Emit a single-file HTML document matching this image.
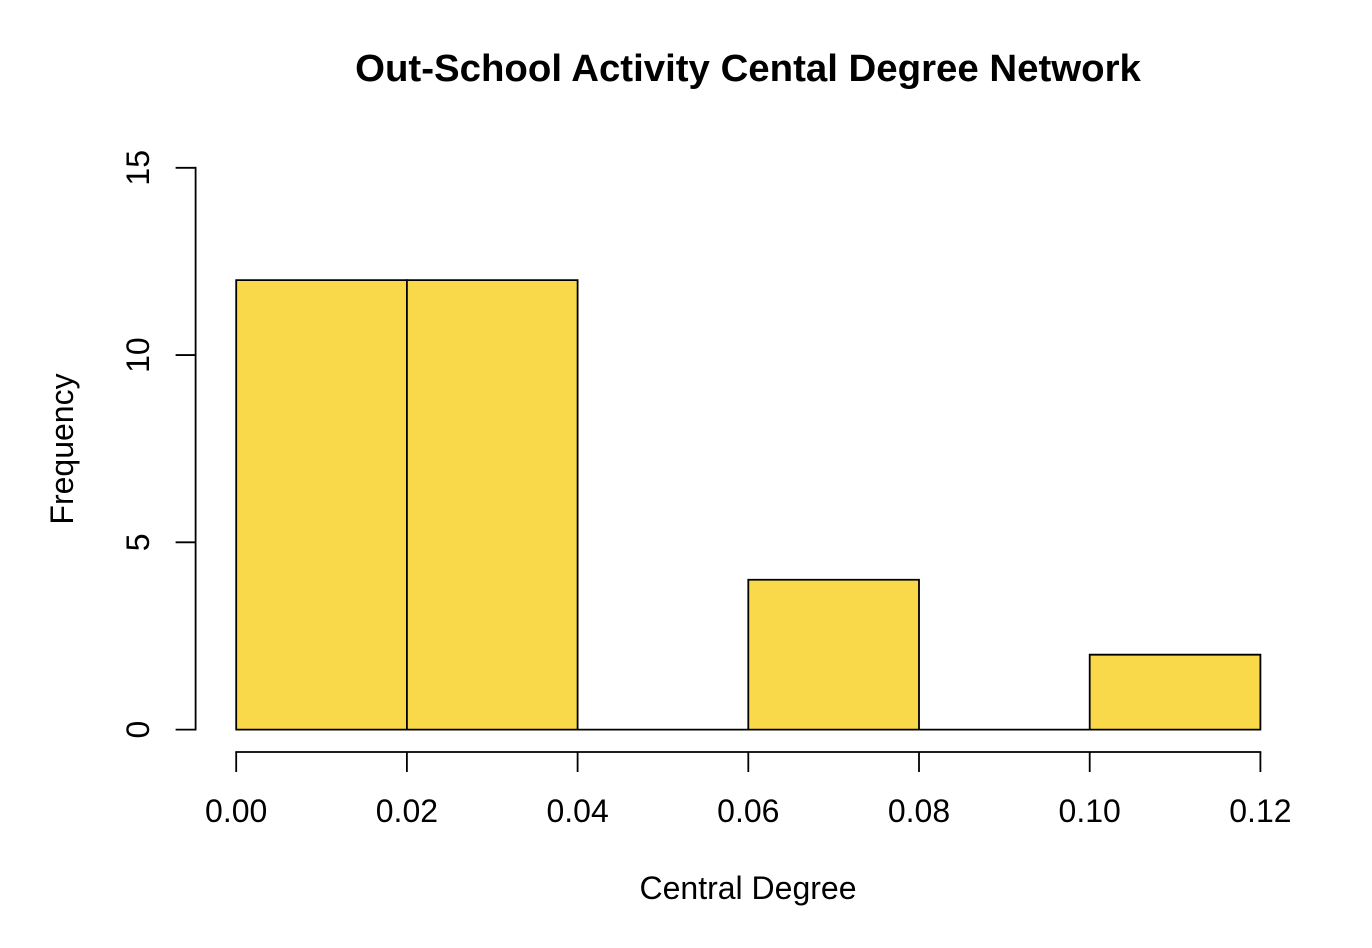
<!DOCTYPE html>
<html>
<head>
<meta charset="utf-8">
<style>
html,body{margin:0;padding:0;background:#fff;}
svg{display:block;}
text{font-family:"Liberation Sans",Arial,sans-serif;fill:#000;}
</style>
</head>
<body>
<svg id="chart" width="1372" height="948" viewBox="0 0 1372 948" xmlns="http://www.w3.org/2000/svg">
<text x="748" y="81" font-size="38.4" font-weight="bold" text-anchor="middle">Out-School Activity Cental Degree Network</text>
<text x="748" y="899" font-size="32" text-anchor="middle">Central Degree</text>
<text transform="translate(73,449) rotate(-90)" font-size="32" text-anchor="middle">Frequency</text>
<g id="bars"></g>
<g id="xaxis"></g>
<g id="yaxis"></g>
</svg>
<script>
const binEdges = [0, 0.02, 0.04, 0.06, 0.08, 0.10, 0.12];
const frequencies = [12, 12, 0, 4, 0, 2];
const xTickValues = [0, 0.02, 0.04, 0.06, 0.08, 0.10, 0.12];
const xTickLabels = ["0.00", "0.02", "0.04", "0.06", "0.08", "0.10", "0.12"];
const yTickValues = [0, 5, 10, 15];
const yTickLabels = ["0", "5", "10", "15"];

const NS = 'http://www.w3.org/2000/svg';
const STROKE = 1.8;
function xScale(v){ return 236.2 + (v / 0.12) * (1260.4 - 236.2); }
function yScale(v){ return 729.6 - (v / 15) * (729.6 - 167.8); }
function mk(tag, attrs, parent, text){
  const el = document.createElementNS(NS, tag);
  for (const k in attrs) el.setAttribute(k, attrs[k]);
  if (text !== undefined) el.textContent = text;
  parent.appendChild(el);
  return el;
}
const barsG = document.getElementById('bars');
frequencies.forEach(function(f, i){
  const x0 = xScale(binEdges[i]), x1 = xScale(binEdges[i + 1]);
  const y = yScale(f), b = yScale(0);
  const d = 'M' + x0 + ' ' + b + 'L' + x0 + ' ' + y + 'L' + x1 + ' ' + y + 'L' + x1 + ' ' + b + 'Z';
  const r = mk('path', {d: d, fill: '#f9d94a', stroke: '#000', 'stroke-width': STROKE, 'stroke-linejoin': 'miter'}, barsG);
  
  
});
const xG = document.getElementById('xaxis');
const xAxisY = 752;
const xLine = mk('line', {x1: xScale(xTickValues[0]), x2: xScale(xTickValues[xTickValues.length - 1]), y1: xAxisY, y2: xAxisY, stroke: '#000', 'stroke-width': STROKE, 'stroke-linecap': 'square'}, xG);


xTickValues.forEach(function(v, i){
  const x = xScale(v);
  const t = mk('line', {x1: x, x2: x, y1: xAxisY, y2: xAxisY + 20, stroke: '#000', 'stroke-width': STROKE}, xG);
  
  
  const l = mk('text', {x: x, y: 822, 'font-size': 32, 'text-anchor': 'middle'}, xG, xTickLabels[i]);
  
  
});
const yG = document.getElementById('yaxis');
const yAxisX = 195.6;
const yLine = mk('line', {x1: yAxisX, x2: yAxisX, y1: yScale(yTickValues[0]), y2: yScale(yTickValues[yTickValues.length - 1]), stroke: '#000', 'stroke-width': STROKE, 'stroke-linecap': 'square'}, yG);


yTickValues.forEach(function(v, i){
  const y = yScale(v);
  const t = mk('line', {x1: yAxisX - 20, x2: yAxisX, y1: y, y2: y, stroke: '#000', 'stroke-width': STROKE}, yG);
  
  
  const l = mk('text', {transform: 'translate(149,' + y + ') rotate(-90)', 'font-size': 32, 'text-anchor': 'middle'}, yG, yTickLabels[i]);
  
  
});
</script>
</body>
</html>
